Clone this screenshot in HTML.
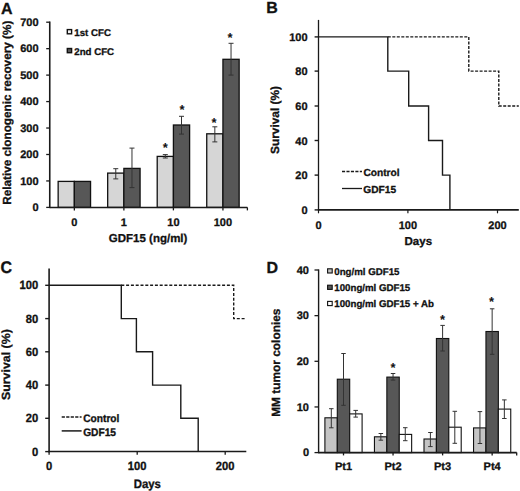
<!DOCTYPE html>
<html><head><meta charset="utf-8"><style>
html,body{margin:0;padding:0;background:#fff;}
body{width:520px;height:491px;overflow:hidden;}
svg{display:block;}
text{font-family:"Liberation Sans",sans-serif;font-weight:bold;fill:#111;stroke:#111;stroke-width:0.3px;text-rendering:geometricPrecision;}
</style></head><body>
<svg width="520" height="491" viewBox="0 0 520 491" shape-rendering="auto">
<rect width="520" height="491" fill="#fff"/>
<text x="1.00" y="13.50" font-size="16" text-anchor="start" >A</text>
<rect x="58.15" y="181.40" width="16.20" height="26.00" fill="#d6d6d6" stroke="#111" stroke-width="1.3"/>
<rect x="74.35" y="181.40" width="16.20" height="26.00" fill="#575757" stroke="#111" stroke-width="1.3"/>
<rect x="107.68" y="173.10" width="16.20" height="34.30" fill="#d6d6d6" stroke="#111" stroke-width="1.3"/>
<rect x="123.88" y="168.40" width="16.20" height="39.00" fill="#575757" stroke="#111" stroke-width="1.3"/>
<rect x="157.21" y="156.40" width="16.20" height="51.00" fill="#d6d6d6" stroke="#111" stroke-width="1.3"/>
<rect x="173.41" y="125.00" width="16.20" height="82.40" fill="#575757" stroke="#111" stroke-width="1.3"/>
<rect x="206.74" y="133.80" width="16.20" height="73.60" fill="#d6d6d6" stroke="#111" stroke-width="1.3"/>
<rect x="222.94" y="59.30" width="16.20" height="148.10" fill="#575757" stroke="#111" stroke-width="1.3"/>
<line x1="115.78" y1="168.70" x2="115.78" y2="178.90" stroke="#333" stroke-width="1" />
<line x1="113.28" y1="168.70" x2="118.28" y2="168.70" stroke="#333" stroke-width="1" />
<line x1="113.28" y1="178.90" x2="118.28" y2="178.90" stroke="#333" stroke-width="1" />
<line x1="131.98" y1="148.10" x2="131.98" y2="187.60" stroke="#333" stroke-width="1" />
<line x1="129.48" y1="148.10" x2="134.48" y2="148.10" stroke="#333" stroke-width="1" />
<line x1="129.48" y1="187.60" x2="134.48" y2="187.60" stroke="#333" stroke-width="1" />
<line x1="165.31" y1="154.60" x2="165.31" y2="158.00" stroke="#333" stroke-width="1" />
<line x1="162.81" y1="154.60" x2="167.81" y2="154.60" stroke="#333" stroke-width="1" />
<line x1="162.81" y1="158.00" x2="167.81" y2="158.00" stroke="#333" stroke-width="1" />
<line x1="181.51" y1="116.30" x2="181.51" y2="134.10" stroke="#333" stroke-width="1" />
<line x1="179.01" y1="116.30" x2="184.01" y2="116.30" stroke="#333" stroke-width="1" />
<line x1="179.01" y1="134.10" x2="184.01" y2="134.10" stroke="#333" stroke-width="1" />
<line x1="214.84" y1="126.80" x2="214.84" y2="141.90" stroke="#333" stroke-width="1" />
<line x1="212.34" y1="126.80" x2="217.34" y2="126.80" stroke="#333" stroke-width="1" />
<line x1="212.34" y1="141.90" x2="217.34" y2="141.90" stroke="#333" stroke-width="1" />
<line x1="231.04" y1="43.30" x2="231.04" y2="75.10" stroke="#333" stroke-width="1" />
<line x1="228.54" y1="43.30" x2="233.54" y2="43.30" stroke="#333" stroke-width="1" />
<line x1="228.54" y1="75.10" x2="233.54" y2="75.10" stroke="#333" stroke-width="1" />
<text x="165.20" y="152.06" font-size="13" text-anchor="middle" style="stroke:none">*</text>
<text x="182.00" y="113.56" font-size="13" text-anchor="middle" style="stroke:none">*</text>
<text x="214.00" y="127.06" font-size="13" text-anchor="middle" style="stroke:none">*</text>
<text x="230.10" y="42.16" font-size="13" text-anchor="middle" style="stroke:none">*</text>
<line x1="49.75" y1="21.50" x2="49.75" y2="208.10" stroke="#1a1a1a" stroke-width="1.6" />
<line x1="49.75" y1="207.40" x2="247.40" y2="207.40" stroke="#1a1a1a" stroke-width="1.5" />
<line x1="46.20" y1="207.40" x2="49.75" y2="207.40" stroke="#1a1a1a" stroke-width="1.3" />
<text x="38.60" y="211.15" font-size="11" text-anchor="end" >0</text>
<line x1="46.20" y1="180.94" x2="49.75" y2="180.94" stroke="#1a1a1a" stroke-width="1.3" />
<text x="38.60" y="184.69" font-size="11" text-anchor="end" >100</text>
<line x1="46.20" y1="154.49" x2="49.75" y2="154.49" stroke="#1a1a1a" stroke-width="1.3" />
<text x="38.60" y="158.24" font-size="11" text-anchor="end" >200</text>
<line x1="46.20" y1="128.03" x2="49.75" y2="128.03" stroke="#1a1a1a" stroke-width="1.3" />
<text x="38.60" y="131.78" font-size="11" text-anchor="end" >300</text>
<line x1="46.20" y1="101.57" x2="49.75" y2="101.57" stroke="#1a1a1a" stroke-width="1.3" />
<text x="38.60" y="105.32" font-size="11" text-anchor="end" >400</text>
<line x1="46.20" y1="75.11" x2="49.75" y2="75.11" stroke="#1a1a1a" stroke-width="1.3" />
<text x="38.60" y="78.86" font-size="11" text-anchor="end" >500</text>
<line x1="46.20" y1="48.66" x2="49.75" y2="48.66" stroke="#1a1a1a" stroke-width="1.3" />
<text x="38.60" y="52.41" font-size="11" text-anchor="end" >600</text>
<line x1="46.20" y1="22.20" x2="49.75" y2="22.20" stroke="#1a1a1a" stroke-width="1.3" />
<text x="38.60" y="25.95" font-size="11" text-anchor="end" >700</text>
<line x1="74.35" y1="207.40" x2="74.35" y2="210.40" stroke="#1a1a1a" stroke-width="1.3" />
<line x1="123.88" y1="207.40" x2="123.88" y2="210.40" stroke="#1a1a1a" stroke-width="1.3" />
<line x1="173.41" y1="207.40" x2="173.41" y2="210.40" stroke="#1a1a1a" stroke-width="1.3" />
<line x1="222.94" y1="207.40" x2="222.94" y2="210.40" stroke="#1a1a1a" stroke-width="1.3" />
<line x1="247.40" y1="207.40" x2="247.40" y2="210.40" stroke="#1a1a1a" stroke-width="1.3" />
<text x="74.35" y="225.60" font-size="11" text-anchor="middle" >0</text>
<text x="123.88" y="225.60" font-size="11" text-anchor="middle" >1</text>
<text x="173.41" y="225.60" font-size="11" text-anchor="middle" >10</text>
<text x="222.94" y="225.60" font-size="11" text-anchor="middle" >100</text>
<text x="148.10" y="241.90" font-size="11.5" text-anchor="middle" >GDF15 (ng/ml)</text>
<text transform="translate(10.81,112.75) rotate(-90) scale(1.0,1.0)" x="0" y="0" font-size="11.75" text-anchor="middle">Relative clonogenic recovery (%)</text>
<rect x="67.30" y="29.60" width="4.30" height="4.20" fill="#f4f4f4" stroke="#111" stroke-width="1.4"/>
<text x="74.30" y="36.10" font-size="9.7" text-anchor="start" >1st CFC</text>
<rect x="67.30" y="48.50" width="4.30" height="4.20" fill="#575757" stroke="#111" stroke-width="1.4"/>
<text x="74.30" y="54.90" font-size="9.7" text-anchor="start" >2nd CFC</text>
<text x="266.30" y="13.40" font-size="16" text-anchor="start" >B</text>
<path d="M387.80,36.90 L468.80,36.90 L468.80,71.10 L498.80,71.10 L498.80,106.00 L518.80,106.00" fill="none" stroke="#1a1a1a" stroke-width="1.4" stroke-dasharray="3 1.5"/>
<path d="M318.50,36.90 L387.80,36.90 L387.80,71.10 L408.70,71.10 L408.70,106.00 L428.60,106.00 L428.60,140.50 L442.50,140.50 L442.50,175.10 L449.90,175.10 L449.90,209.90" fill="none" stroke="#1a1a1a" stroke-width="1.4"/>
<line x1="318.50" y1="19.90" x2="318.50" y2="210.60" stroke="#1a1a1a" stroke-width="1.3" />
<line x1="318.50" y1="209.90" x2="518.80" y2="209.90" stroke="#1a1a1a" stroke-width="1.6" />
<line x1="314.60" y1="209.90" x2="318.50" y2="209.90" stroke="#1a1a1a" stroke-width="1.4" />
<text x="307.60" y="214.10" font-size="11" text-anchor="end" >0</text>
<line x1="314.60" y1="175.10" x2="318.50" y2="175.10" stroke="#1a1a1a" stroke-width="1.4" />
<text x="307.60" y="179.30" font-size="11" text-anchor="end" >20</text>
<line x1="314.60" y1="140.50" x2="318.50" y2="140.50" stroke="#1a1a1a" stroke-width="1.4" />
<text x="307.60" y="144.70" font-size="11" text-anchor="end" >40</text>
<line x1="314.60" y1="106.00" x2="318.50" y2="106.00" stroke="#1a1a1a" stroke-width="1.4" />
<text x="307.60" y="110.20" font-size="11" text-anchor="end" >60</text>
<line x1="314.60" y1="71.10" x2="318.50" y2="71.10" stroke="#1a1a1a" stroke-width="1.4" />
<text x="307.60" y="75.30" font-size="11" text-anchor="end" >80</text>
<line x1="314.60" y1="36.90" x2="318.50" y2="36.90" stroke="#1a1a1a" stroke-width="1.4" />
<text x="307.60" y="41.10" font-size="11" text-anchor="end" >100</text>
<line x1="318.50" y1="209.90" x2="318.50" y2="213.30" stroke="#1a1a1a" stroke-width="1.2" />
<text x="318.50" y="228.60" font-size="11" text-anchor="middle" >0</text>
<line x1="407.90" y1="209.90" x2="407.90" y2="213.30" stroke="#1a1a1a" stroke-width="1.2" />
<text x="407.90" y="228.60" font-size="11" text-anchor="middle" >100</text>
<line x1="497.50" y1="209.90" x2="497.50" y2="213.30" stroke="#1a1a1a" stroke-width="1.2" />
<text x="497.50" y="228.60" font-size="11" text-anchor="middle" >200</text>
<text x="418.30" y="245.00" font-size="11.5" text-anchor="middle" >Days</text>
<text transform="translate(279.32,120.00) rotate(-90) scale(1.0,1.0)" x="0" y="0" font-size="11.9" text-anchor="middle">Survival (%)</text>
<line x1="342.00" y1="171.50" x2="362.00" y2="171.50" stroke="#1a1a1a" stroke-width="1.3" stroke-dasharray="3.1 1.35"/>
<text x="363.40" y="175.80" font-size="10.2" text-anchor="start" >Control</text>
<line x1="342.00" y1="188.50" x2="362.00" y2="188.50" stroke="#1a1a1a" stroke-width="1.3" />
<text x="363.30" y="192.60" font-size="10.2" text-anchor="start" >GDF15</text>
<text transform="translate(0.50,273.00) scale(1.0,1.05)" x="0" y="0" font-size="16" text-anchor="start" >C</text>
<path d="M121.30,285.30 L233.70,285.30 L233.70,318.60 L246.00,318.60" fill="none" stroke="#1a1a1a" stroke-width="1.4" stroke-dasharray="3 1.8"/>
<path d="M49.10,285.30 L121.30,285.30 L121.30,318.60 L136.40,318.60 L136.40,351.80 L152.60,351.80 L152.60,385.10 L180.80,385.10 L180.80,418.30 L198.20,418.30 L198.20,451.60" fill="none" stroke="#1a1a1a" stroke-width="1.4"/>
<line x1="49.10" y1="268.50" x2="49.10" y2="452.30" stroke="#1a1a1a" stroke-width="1.6" />
<line x1="48.30" y1="451.60" x2="246.30" y2="451.60" stroke="#1a1a1a" stroke-width="1.5" />
<line x1="45.20" y1="451.60" x2="49.10" y2="451.60" stroke="#1a1a1a" stroke-width="1.4" />
<text transform="translate(38.20,455.60) scale(1.0,1.07)" x="0" y="0" font-size="11.2" text-anchor="end" >0</text>
<line x1="45.20" y1="418.30" x2="49.10" y2="418.30" stroke="#1a1a1a" stroke-width="1.4" />
<text transform="translate(38.20,422.30) scale(1.0,1.07)" x="0" y="0" font-size="11.2" text-anchor="end" >20</text>
<line x1="45.20" y1="385.10" x2="49.10" y2="385.10" stroke="#1a1a1a" stroke-width="1.4" />
<text transform="translate(38.20,389.10) scale(1.0,1.07)" x="0" y="0" font-size="11.2" text-anchor="end" >40</text>
<line x1="45.20" y1="351.80" x2="49.10" y2="351.80" stroke="#1a1a1a" stroke-width="1.4" />
<text transform="translate(38.20,355.80) scale(1.0,1.07)" x="0" y="0" font-size="11.2" text-anchor="end" >60</text>
<line x1="45.20" y1="318.60" x2="49.10" y2="318.60" stroke="#1a1a1a" stroke-width="1.4" />
<text transform="translate(38.20,322.60) scale(1.0,1.07)" x="0" y="0" font-size="11.2" text-anchor="end" >80</text>
<line x1="45.20" y1="285.30" x2="49.10" y2="285.30" stroke="#1a1a1a" stroke-width="1.4" />
<text transform="translate(38.20,289.30) scale(1.0,1.07)" x="0" y="0" font-size="11.2" text-anchor="end" >100</text>
<line x1="49.10" y1="451.60" x2="49.10" y2="454.80" stroke="#1a1a1a" stroke-width="1.3" />
<text transform="translate(49.10,470.40) scale(1.0,1.07)" x="0" y="0" font-size="11.2" text-anchor="middle" >0</text>
<line x1="137.20" y1="451.60" x2="137.20" y2="454.80" stroke="#1a1a1a" stroke-width="1.3" />
<text transform="translate(137.20,470.40) scale(1.0,1.07)" x="0" y="0" font-size="11.2" text-anchor="middle" >100</text>
<line x1="225.20" y1="451.60" x2="225.20" y2="454.80" stroke="#1a1a1a" stroke-width="1.3" />
<text transform="translate(225.20,470.40) scale(1.0,1.07)" x="0" y="0" font-size="11.2" text-anchor="middle" >200</text>
<text transform="translate(147.30,487.50) scale(1.0,1.07)" x="0" y="0" font-size="11.4" text-anchor="middle" >Days</text>
<text transform="translate(9.92,364.60) rotate(-90) scale(1.04,1.0)" x="0" y="0" font-size="11.9" text-anchor="middle">Survival (%)</text>
<line x1="61.70" y1="417.00" x2="81.60" y2="417.00" stroke="#1a1a1a" stroke-width="1.5" stroke-dasharray="3.2 1.3"/>
<text transform="translate(83.20,421.60) scale(1.0,1.07)" x="0" y="0" font-size="10.2" text-anchor="start" >Control</text>
<line x1="61.70" y1="430.90" x2="81.60" y2="430.90" stroke="#1a1a1a" stroke-width="1.5" />
<text transform="translate(83.20,435.50) scale(1.0,1.07)" x="0" y="0" font-size="10.2" text-anchor="start" >GDF15</text>
<text x="266.40" y="272.80" font-size="16" text-anchor="start" >D</text>
<rect x="324.90" y="417.80" width="12.40" height="34.80" fill="#c4c4c4" stroke="#111" stroke-width="1.1"/>
<rect x="337.30" y="379.20" width="12.40" height="73.40" fill="#575757" stroke="#111" stroke-width="1.1"/>
<rect x="349.70" y="413.90" width="12.40" height="38.70" fill="#ffffff" stroke="#111" stroke-width="1.1"/>
<rect x="374.45" y="436.80" width="12.40" height="15.80" fill="#c4c4c4" stroke="#111" stroke-width="1.1"/>
<rect x="386.85" y="377.10" width="12.40" height="75.50" fill="#575757" stroke="#111" stroke-width="1.1"/>
<rect x="399.25" y="434.40" width="12.40" height="18.20" fill="#ffffff" stroke="#111" stroke-width="1.1"/>
<rect x="424.00" y="439.00" width="12.40" height="13.60" fill="#c4c4c4" stroke="#111" stroke-width="1.1"/>
<rect x="436.40" y="338.50" width="12.40" height="114.10" fill="#575757" stroke="#111" stroke-width="1.1"/>
<rect x="448.80" y="427.20" width="12.40" height="25.40" fill="#ffffff" stroke="#111" stroke-width="1.1"/>
<rect x="473.55" y="427.90" width="12.40" height="24.70" fill="#c4c4c4" stroke="#111" stroke-width="1.1"/>
<rect x="485.95" y="331.50" width="12.40" height="121.10" fill="#575757" stroke="#111" stroke-width="1.1"/>
<rect x="498.35" y="409.10" width="12.40" height="43.50" fill="#ffffff" stroke="#111" stroke-width="1.1"/>
<line x1="331.30" y1="408.70" x2="331.30" y2="427.80" stroke="#333" stroke-width="1" />
<line x1="329.05" y1="408.70" x2="333.55" y2="408.70" stroke="#333" stroke-width="1" />
<line x1="329.05" y1="427.80" x2="333.55" y2="427.80" stroke="#333" stroke-width="1" />
<line x1="343.50" y1="353.50" x2="343.50" y2="405.30" stroke="#333" stroke-width="1" />
<line x1="341.25" y1="353.50" x2="345.75" y2="353.50" stroke="#333" stroke-width="1" />
<line x1="341.25" y1="405.30" x2="345.75" y2="405.30" stroke="#333" stroke-width="1" />
<line x1="355.70" y1="410.40" x2="355.70" y2="417.10" stroke="#333" stroke-width="1" />
<line x1="353.45" y1="410.40" x2="357.95" y2="410.40" stroke="#333" stroke-width="1" />
<line x1="353.45" y1="417.10" x2="357.95" y2="417.10" stroke="#333" stroke-width="1" />
<line x1="380.85" y1="433.50" x2="380.85" y2="440.20" stroke="#333" stroke-width="1" />
<line x1="378.60" y1="433.50" x2="383.10" y2="433.50" stroke="#333" stroke-width="1" />
<line x1="378.60" y1="440.20" x2="383.10" y2="440.20" stroke="#333" stroke-width="1" />
<line x1="393.05" y1="373.50" x2="393.05" y2="380.10" stroke="#333" stroke-width="1" />
<line x1="390.80" y1="373.50" x2="395.30" y2="373.50" stroke="#333" stroke-width="1" />
<line x1="390.80" y1="380.10" x2="395.30" y2="380.10" stroke="#333" stroke-width="1" />
<line x1="405.25" y1="427.70" x2="405.25" y2="440.70" stroke="#333" stroke-width="1" />
<line x1="403.00" y1="427.70" x2="407.50" y2="427.70" stroke="#333" stroke-width="1" />
<line x1="403.00" y1="440.70" x2="407.50" y2="440.70" stroke="#333" stroke-width="1" />
<line x1="430.40" y1="432.50" x2="430.40" y2="446.60" stroke="#333" stroke-width="1" />
<line x1="428.15" y1="432.50" x2="432.65" y2="432.50" stroke="#333" stroke-width="1" />
<line x1="428.15" y1="446.60" x2="432.65" y2="446.60" stroke="#333" stroke-width="1" />
<line x1="442.60" y1="325.40" x2="442.60" y2="351.00" stroke="#333" stroke-width="1" />
<line x1="440.35" y1="325.40" x2="444.85" y2="325.40" stroke="#333" stroke-width="1" />
<line x1="440.35" y1="351.00" x2="444.85" y2="351.00" stroke="#333" stroke-width="1" />
<line x1="454.80" y1="411.30" x2="454.80" y2="443.30" stroke="#333" stroke-width="1" />
<line x1="452.55" y1="411.30" x2="457.05" y2="411.30" stroke="#333" stroke-width="1" />
<line x1="452.55" y1="443.30" x2="457.05" y2="443.30" stroke="#333" stroke-width="1" />
<line x1="479.95" y1="411.60" x2="479.95" y2="443.50" stroke="#333" stroke-width="1" />
<line x1="477.70" y1="411.60" x2="482.20" y2="411.60" stroke="#333" stroke-width="1" />
<line x1="477.70" y1="443.50" x2="482.20" y2="443.50" stroke="#333" stroke-width="1" />
<line x1="492.15" y1="308.80" x2="492.15" y2="354.30" stroke="#333" stroke-width="1" />
<line x1="489.90" y1="308.80" x2="494.40" y2="308.80" stroke="#333" stroke-width="1" />
<line x1="489.90" y1="354.30" x2="494.40" y2="354.30" stroke="#333" stroke-width="1" />
<line x1="504.35" y1="399.90" x2="504.35" y2="418.50" stroke="#333" stroke-width="1" />
<line x1="502.10" y1="399.90" x2="506.60" y2="399.90" stroke="#333" stroke-width="1" />
<line x1="502.10" y1="418.50" x2="506.60" y2="418.50" stroke="#333" stroke-width="1" />
<text x="393.10" y="372.26" font-size="13" text-anchor="middle" style="stroke:none">*</text>
<text x="442.60" y="323.66" font-size="13" text-anchor="middle" style="stroke:none">*</text>
<text x="491.50" y="305.96" font-size="13" text-anchor="middle" style="stroke:none">*</text>
<line x1="318.60" y1="269.40" x2="318.60" y2="453.30" stroke="#1a1a1a" stroke-width="1.4" />
<line x1="318.60" y1="452.60" x2="516.70" y2="452.60" stroke="#1a1a1a" stroke-width="1.6" />
<line x1="314.50" y1="452.60" x2="318.60" y2="452.60" stroke="#1a1a1a" stroke-width="1.3" />
<text x="309.00" y="456.35" font-size="11" text-anchor="end" >0</text>
<line x1="314.50" y1="406.95" x2="318.60" y2="406.95" stroke="#1a1a1a" stroke-width="1.3" />
<text x="309.00" y="410.70" font-size="11" text-anchor="end" >10</text>
<line x1="314.50" y1="361.30" x2="318.60" y2="361.30" stroke="#1a1a1a" stroke-width="1.3" />
<text x="309.00" y="365.05" font-size="11" text-anchor="end" >20</text>
<line x1="314.50" y1="315.65" x2="318.60" y2="315.65" stroke="#1a1a1a" stroke-width="1.3" />
<text x="309.00" y="319.40" font-size="11" text-anchor="end" >30</text>
<line x1="314.50" y1="270.00" x2="318.60" y2="270.00" stroke="#1a1a1a" stroke-width="1.3" />
<text x="309.00" y="273.75" font-size="11" text-anchor="end" >40</text>
<line x1="343.50" y1="452.60" x2="343.50" y2="455.40" stroke="#1a1a1a" stroke-width="1.3" />
<line x1="393.05" y1="452.60" x2="393.05" y2="455.40" stroke="#1a1a1a" stroke-width="1.3" />
<line x1="442.60" y1="452.60" x2="442.60" y2="455.40" stroke="#1a1a1a" stroke-width="1.3" />
<line x1="492.15" y1="452.60" x2="492.15" y2="455.40" stroke="#1a1a1a" stroke-width="1.3" />
<line x1="516.70" y1="452.60" x2="516.70" y2="455.40" stroke="#1a1a1a" stroke-width="1.3" />
<text x="343.50" y="470.20" font-size="11" text-anchor="middle" >Pt1</text>
<text x="393.05" y="470.20" font-size="11" text-anchor="middle" >Pt2</text>
<text x="442.60" y="470.20" font-size="11" text-anchor="middle" >Pt3</text>
<text x="492.15" y="470.20" font-size="11" text-anchor="middle" >Pt4</text>
<text transform="translate(280.12,362.70) rotate(-90) scale(1.0,1.0)" x="0" y="0" font-size="11.9" text-anchor="middle">MM tumor colonies</text>
<rect x="327.60" y="268.80" width="4.60" height="4.20" fill="#c4c4c4" stroke="#111" stroke-width="1.1"/>
<text x="334.30" y="275.00" font-size="9.7" text-anchor="start" >0ng/ml GDF15</text>
<rect x="327.60" y="285.20" width="4.60" height="4.20" fill="#575757" stroke="#111" stroke-width="1.1"/>
<text x="334.30" y="291.20" font-size="9.7" text-anchor="start" >100ng/ml GDF15</text>
<rect x="327.60" y="301.40" width="4.60" height="4.20" fill="#ffffff" stroke="#111" stroke-width="1.1"/>
<text x="334.30" y="307.30" font-size="9.7" text-anchor="start" >100ng/ml GDF15 + Ab</text>
</svg>
</body></html>
